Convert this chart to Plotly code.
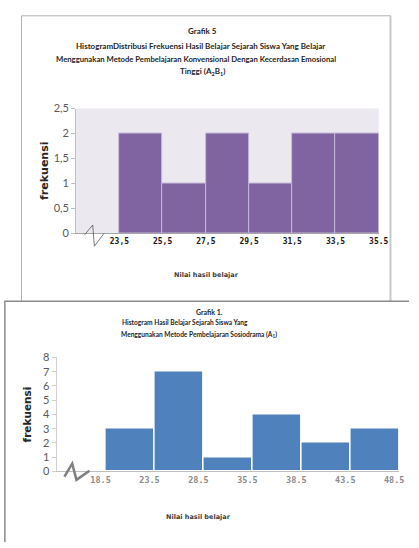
import plotly.graph_objects as go

W, H = 419, 548

# ---- data ----
top_edges = ["23,5", "25,5", "27,5", "29,5", "31,5", "33,5", "35.5"]
top_freq = [2, 1, 2, 1, 2, 2]
top_yticks = [0, 0.5, 1, 1.5, 2, 2.5]

bot_edges = ["18.5", "23.5", "28.5", "35.5", "38.5", "43.5", "48.5"]
bot_freq = [3, 7, 1, 4, 2, 3]
bot_yticks = [0, 1, 2, 3, 4, 5, 6, 7, 8]


def px(x, y):
    return x / W, 1 - y / H


def pathp(points):
    s = ""
    for i, (x, y) in enumerate(points):
        a, b = px(x, y)
        s += ("M" if i == 0 else "L") + f"{a:.4f},{b:.4f} "
    return s.strip()


fig = go.Figure()

fig.add_trace(go.Bar(
    x=[i + 1.5 for i in range(len(top_freq))], y=top_freq, width=1,
    marker=dict(color="#8064A2", line=dict(color="#C6B8D8", width=1)),
    xaxis="x", yaxis="y", showlegend=False, hoverinfo="skip"))

fig.add_trace(go.Bar(
    x=[i + 1.5 for i in range(len(bot_freq))], y=bot_freq, width=1,
    marker=dict(color="#4F81BD", line=dict(color="#FFFFFF", width=1.5)),
    xaxis="x2", yaxis="y2", showlegend=False, hoverinfo="skip"))

TITLE_FONT = "Lato"
TICK_FONT = "DejaVu Sans Mono"

fig.update_layout(
    width=W, height=H, margin=dict(l=0, r=0, t=0, b=0),
    paper_bgcolor="white", plot_bgcolor="white",
    separators=",.",
    bargap=0,
    xaxis=dict(domain=[78 / W, 388 / W], range=[0, 7],
               tickvals=list(range(1, 8)), ticktext=top_edges,
               showgrid=False, zeroline=False, showline=True,
               linecolor="#A6A6A6", linewidth=1, ticks="",
               tickfont=dict(family=TICK_FONT, size=8, color="#1A1A1A", weight="bold"),
               ticklabelshift=0, anchor="y"),
    yaxis=dict(domain=[1 - 232 / H, 1 - 104 / H], range=[0, 2.5],
               tickvals=top_yticks, showgrid=False, zeroline=False,
               showline=True, linecolor="#BFBFBF", linewidth=1,
               ticks="outside", ticklen=4, tickcolor="#BFBFBF",
               tickfont=dict(family="Lato", size=11, color="#595959"),
               anchor="x"),
    xaxis2=dict(domain=[58 / W, 409 / W], range=[0, 7],
                tickvals=list(range(1, 8)), ticktext=bot_edges,
                showgrid=False, zeroline=False, showline=True,
                linecolor="#BFBFBF", linewidth=1, ticks="",
                tickfont=dict(family=TICK_FONT, size=8.5, color="#8C8C8C", weight="bold"),
                ticklabelshift=-5, anchor="y2"),
    yaxis2=dict(domain=[1 - 475.7 / H, 1 - 359 / H], range=[0, 8],
                tickvals=bot_yticks, showgrid=False, zeroline=False,
                showline=True, linecolor="#D0D0D0", linewidth=1,
                ticks="outside", ticklen=4, tickcolor="#D0D0D0",
                tickfont=dict(family="Lato", size=11, color="#595959"),
                anchor="x2"),
)

shapes = []
# top plot background (lavender)
x0, y0 = px(78, 232)
x1, y1 = px(388, 104)
shapes.append(dict(type="rect", xref="paper", yref="paper", x0=x0, y0=y0, x1=x1, y1=y1,
                   fillcolor="#EBE8F0", line=dict(width=0), layer="below"))
# frames
shapes.append(dict(type="path", xref="paper", yref="paper",
                   path=pathp([(22, 301), (22, 9), (400, 9), (400, 302)]),
                   line=dict(color="#B0B0B0", width=1)))
shapes.append(dict(type="path", xref="paper", yref="paper",
                   path=pathp([(400, 9), (400, 302)]),
                   line=dict(color="#C8C8C8", width=2)))
shapes.append(dict(type="path", xref="paper", yref="paper",
                   path=pathp([(5, 548), (5, 301.5), (419, 301.5)]),
                   line=dict(color="#8A8A8A", width=1.5)))
# axis break marks
shapes.append(dict(type="path", xref="paper", yref="paper",
                   path=pathp([(86.7, 233.3), (95, 223.3), (96.7, 245), (106.7, 231.7)]),
                   line=dict(color="#595959", width=0.8)))
shapes.append(dict(type="path", xref="paper", yref="paper",
                   path=pathp([(66, 481), (74, 467.7), (78.3, 484.3), (91.7, 475)]),
                   line=dict(color="#7F7F7F", width=2.5)))
fig.update_layout(shapes=shapes)


def ann(text, x, y, size, color="#000000", bold=True, family=TITLE_FONT, angle=0):
    a, b = px(x, y)
    fig.add_annotation(text=text, x=a, y=b, xref="paper", yref="paper",
                       showarrow=False, xanchor="center", yanchor="middle",
                       textangle=angle,
                       font=dict(family=family, size=size, color=color,
                                 weight="bold" if bold else "normal"))


# top titles
ann("Grafik 5", 207, 25, 8, "#262626")
ann("HistogramDistribusi Frekuensi Hasil Belajar Sejarah Siswa Yang Belajar", 205, 40, 8, "#262626")
ann("Menggunakan Metode Pembelajaran Konvensional Dengan Kecerdasan Emosional", 201, 53, 7.7, "#262626")
ann("Tinggi (A<sub>2</sub>B<sub>1</sub>)", 207, 66, 8, "#262626")
ann("frekuensi", 45, 168, 11, "#262626", family="DejaVu Sans", angle=-90)
ann("Nilai hasil belajar", 212, 275, 6.5, "#404040", family="DejaVu Sans")

# bottom titles
ann("Grafik 1.", 215, 312, 7, "#262626")
ann("Histogram Hasil Belajar Sejarah Siswa Yang", 190, 323, 6.6, "#262626")
ann("Menggunakan Metode Pembelajaran Sosiodrama (A<sub>1</sub>)", 204, 335, 6.6, "#262626")
ann("frekuensi", 28, 417, 10.5, "#262626", family="DejaVu Sans", angle=-90)
ann("Nilai hasil belajar", 203, 522, 6.5, "#404040", family="DejaVu Sans")

fig.write_html("out.html", config={"displayModeBar": False},
               post_script="document.body.style.margin='0';document.body.style.padding='0';")
